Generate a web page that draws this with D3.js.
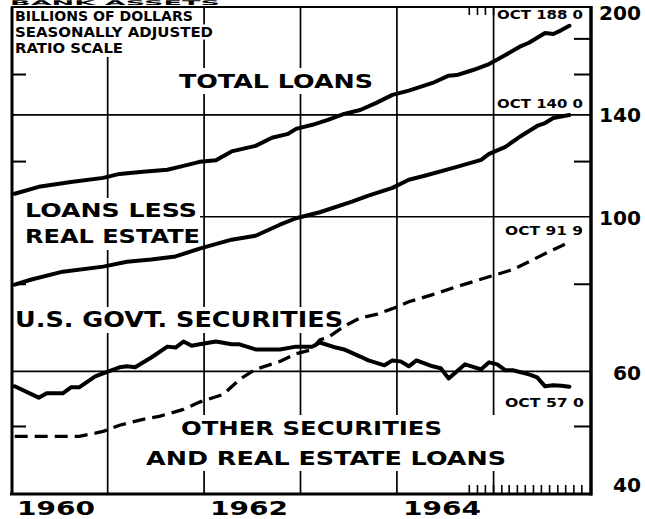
<!DOCTYPE html>
<html><head><meta charset="utf-8">
<script src="https://cdn.jsdelivr.net/npm/d3@7"></script>
<style>body{margin:0;background:#fff}svg{display:block}text{font-family:"DejaVu Sans",sans-serif;font-weight:bold;fill:#000}</style>
</head><body>
<svg id="c" width="645" height="519"></svg>
<script>
// ---------- DATA (billions of dollars, seasonally adjusted) ----------
const totalMonths = ["1960-01","1960-04","1960-08","1960-12","1961-02","1961-05","1961-08","1961-10","1961-12","1962-02","1962-04","1962-07","1962-09","1962-11","1962-12","1963-02","1963-04","1963-06","1963-08","1963-10","1963-12","1964-02","1964-05","1964-07","1964-08","1964-10","1964-12","1965-02","1965-04","1965-05","1965-07","1965-08","1965-09","1965-10"];
const totalValues = [107.9,110.4,112.2,113.7,115.2,116.0,116.8,118.3,119.9,120.5,124.1,126.4,129.8,131.5,133.7,135.5,137.7,140.5,142.3,145.7,149.6,151.7,155.6,159.4,159.7,162.4,165.6,170.7,175.8,177.7,183.5,182.9,185.3,188.0];

const lessReMonths = ["1960-01","1960-03","1960-07","1960-12","1961-03","1961-06","1961-09","1961-12","1962-04","1962-07","1962-10","1962-12","1963-03","1963-07","1963-09","1963-12","1964-02","1964-04","1964-08","1964-11","1964-12","1965-02","1965-04","1965-06","1965-07","1965-08","1965-10"];
const lessReValues = [79.9,81.2,83.4,84.8,86.2,86.8,87.7,90.0,92.7,93.9,97.4,99.5,101.5,105.1,107.2,110.0,113.0,114.5,117.9,120.7,123.1,126.0,130.6,135.0,136.3,138.6,140.0];

const govtMonths = ["1960-01","1960-04","1960-05","1960-07","1960-08","1960-09","1960-11","1960-12","1961-02","1961-03","1961-04","1961-06","1961-08","1961-09","1961-10","1961-11","1961-12","1962-02","1962-04","1962-05","1962-07","1962-10","1962-12","1963-02","1963-03","1963-05","1963-06","1963-08","1963-09","1963-11","1963-12","1964-01","1964-02","1964-03","1964-05","1964-06","1964-07","1964-09","1964-11","1964-12","1965-01","1965-02","1965-03","1965-05","1965-06","1965-07","1965-08","1965-09","1965-10"];
const govtValues = [57.1,55.0,55.8,55.8,56.9,56.9,59.0,59.6,60.8,61.0,60.8,62.8,65.1,64.9,66.2,65.3,65.6,66.2,65.6,65.6,64.5,64.5,65.1,65.1,66.0,64.9,64.5,63.0,62.2,61.2,62.2,62.0,61.0,62.2,61.0,60.6,58.6,61.4,60.4,61.8,61.4,60.2,60.2,59.4,58.8,57.1,57.3,57.2,57.0];

const otherMonths = ["1960-01","1960-04","1960-07","1960-09","1960-11","1960-12","1961-02","1961-05","1961-07","1961-10","1961-12","1962-03","1962-05","1962-07","1962-10","1962-12","1963-02","1963-03","1963-04","1963-06","1963-08","1963-10","1963-12","1964-02","1964-05","1964-08","1964-12","1965-03","1965-05","1965-08","1965-10"];
const otherValues = [48.4,48.4,48.4,48.4,48.9,49.2,50.2,51.2,51.7,52.9,54.2,55.6,58.4,60.4,62.0,63.6,64.5,66.6,67.1,69.6,71.6,72.4,73.8,75.5,77.3,79.4,82.0,84.0,86.2,89.7,91.9];

const majorTicks = [200, 140, 100, 60, 40];
const minorTicks = [180, 160, 120, 80, 50];
const gridYears = [1961, 1962, 1963, 1964, 1965];
const yearLabels = ["1960", "1962", "1964"];
const endLabels = ["OCT  188 0", "OCT  140 0", "OCT  91 9", "OCT  57 0"];

// ---------- CHART ----------
const svg = d3.select("#c");
const x = d3.scaleTime().domain([new Date(1960,0,1), new Date(1966,0,1)]).range([11, 590]);
const y = d3.scaleLog().domain([40, 200]).range([494, 7]);
const parse = s => { const [a,b] = s.split("-").map(Number); return new Date(a, b-1, 15); };
const [X0, X1] = x.range();
const [Y0, Y1] = [y(40), y(200)];

const gGrid = svg.append("g"), gTick = svg.append("g"), gBg = svg.append("g"),
      gText = svg.append("g"), gLine = svg.append("g"), gFrame = svg.append("g");

// grid
gGrid.selectAll("line.v").data(gridYears).join("line")
  .attr("x1", d => x(new Date(d,0,1))).attr("x2", d => x(new Date(d,0,1)))
  .attr("y1", Y1).attr("y2", Y0).attr("stroke", "#000").attr("stroke-width", 1.7);
gGrid.selectAll("line.h").data([140,100,60]).join("line")
  .attr("x1", X0).attr("x2", X1).attr("y1", d => y(d)).attr("y2", d => y(d))
  .attr("stroke", "#000").attr("stroke-width", 1.7);

// minor ticks on both sides
minorTicks.forEach(v => {
  gTick.append("line").attr("x1", X0).attr("x2", X0 + 15).attr("y1", y(v)).attr("y2", y(v)).attr("stroke","#000").attr("stroke-width",2);
  gTick.append("line").attr("x1", X1 - 16).attr("x2", X1).attr("y1", y(v)).attr("y2", y(v)).attr("stroke","#000").attr("stroke-width",2);
});
// monthly ticks (Oct 1964 - Dec 1965) top and bottom
const months = d3.timeMonth.range(new Date(1964,9,1), new Date(1966,0,1));
months.forEach(m => {
  gTick.append("line").attr("x1", x(m)).attr("x2", x(m)).attr("y1", Y0).attr("y2", Y0 - 9).attr("stroke","#000").attr("stroke-width",1.6);
  gTick.append("line").attr("x1", x(m)).attr("x2", x(m)).attr("y1", Y1).attr("y2", Y1 + 8).attr("stroke","#000").attr("stroke-width",1.6);
});

// text helper
function txt(g, t, xl, yb, w, fs, halo) {
  const el = g.append("text").attr("x", xl).attr("y", yb).attr("font-size", fs)
    .attr("textLength", w).attr("lengthAdjust", "spacingAndGlyphs").text(t);
  if (halo) el.attr("stroke", "#fff").attr("stroke-width", halo).attr("stroke-linejoin","round").attr("paint-order","stroke");
  return el;
}
function bg(els, padL, padR, padT, padB, left) {
  const bbs = els.map(e => e.node().getBBox());
  const x0 = left != null ? left : d3.min(bbs, b => b.x) - padL;
  const x1 = d3.max(bbs, b => b.x + b.width) + padR;
  const y0 = d3.min(bbs, b => b.y) - padT, y1 = d3.max(bbs, b => b.y + b.height) + padB;
  gBg.append("rect").attr("x", x0).attr("y", y0).attr("width", x1 - x0).attr("height", y1 - y0).attr("fill", "#fff");
}

// title strip above the frame (mostly cropped in the original)
txt(gText, "BANK ASSETS", 10, 5.2, 210, 6.5);

// units block
const u1 = txt(gText, "BILLIONS OF DOLLARS", 15, 21, 178, 14.5, 5);
const u2 = txt(gText, "SEASONALLY ADJUSTED", 15, 37, 198, 14.5, 5);
const u3 = txt(gText, "RATIO SCALE", 15, 53, 108, 14.5, 5);
bg([u1, u3], 0, 3, 0, 1, X0);

// series labels
const tl = txt(gText, "TOTAL LOANS", 179, 88, 194, 19);
bg([tl], 4, 4, 2, 2);
const ll1 = txt(gText, "LOANS LESS", 25, 217, 172, 20);
const ll2 = txt(gText, "REAL ESTATE", 25, 243, 175, 20);
bg([ll1, ll2], 0, 0, 0, 2, X0);
const gv = txt(gText, "U.S. GOVT. SECURITIES", 15, 327, 328, 21);
bg([gv], 0, 3, 1, 1, X0);
const o1 = txt(gText, "OTHER SECURITIES", 181, 435, 261, 20);
const o2 = txt(gText, "AND REAL ESTATE LOANS", 146, 465, 360, 20);
bg([o1, o2], 3, 3, 1, 1);

// end labels
const e1 = txt(gText, endLabels[0], 497, 19, 86, 12.5);
bg([e1], 1, 4, 0, 0);
txt(gText, endLabels[1], 497, 108, 86, 12.5, 4);
txt(gText, endLabels[2], 505, 235, 78, 12.5, 4);
txt(gText, endLabels[3], 505, 407, 79, 12.5, 4);

// right-hand axis labels
const rlPos = {200: 20, 140: 122, 100: 225, 60: 380, 40: 492};
majorTicks.forEach(v => {
  const s = String(v);
  svg.append("text").attr("x", 641).attr("y", rlPos[v]).attr("text-anchor", "end")
    .attr("font-size", 20).attr("textLength", s.length === 3 ? 42 : 28)
    .attr("lengthAdjust", "spacingAndGlyphs").text(s);
});
// year labels (centred on mid-year)
yearLabels.forEach(s => {
  const cx = x(new Date(+s, 6, 1)) - 3;
  svg.append("text").attr("x", cx).attr("y", 515).attr("text-anchor", "middle")
    .attr("font-size", 20).attr("textLength", 78).attr("lengthAdjust", "spacingAndGlyphs").text(s);
});

// lines
const line = d3.line().x(d => x(d[0])).y(d => y(d[1])).curve(d3.curveLinear);
const zipS = (ms, vs) => ms.map((m, i) => [parse(m), vs[i]]);
const series = [
  {d: zipS(totalMonths, totalValues), w: 4, dash: null},
  {d: zipS(lessReMonths, lessReValues), w: 4, dash: null},
  {d: zipS(govtMonths, govtValues), w: 4, dash: null},
  {d: zipS(otherMonths, otherValues), w: 3.3, dash: "13,7"}
];
series.forEach(s => {
  gLine.append("path").attr("d", line(s.d)).attr("fill", "none").attr("stroke", "#000")
    .attr("stroke-width", s.w).attr("stroke-linejoin", "round").attr("stroke-linecap", s.dash ? "butt" : "round")
    .attr("stroke-dasharray", s.dash);
});

// frame
gFrame.append("line").attr("x1", X0 + 1).attr("x2", X0 + 1).attr("y1", Y1).attr("y2", Y0).attr("stroke","#000").attr("stroke-width", 3);
gFrame.append("line").attr("x1", X1 + 1).attr("x2", X1 + 1).attr("y1", Y1 - 1).attr("y2", Y0 + 1.5).attr("stroke","#000").attr("stroke-width", 3.5);
gFrame.append("line").attr("x1", X0).attr("x2", X1 + 2).attr("y1", Y1).attr("y2", Y1).attr("stroke","#000").attr("stroke-width", 2);
gFrame.append("line").attr("x1", X0 - 1).attr("x2", X1 + 2).attr("y1", Y0).attr("y2", Y0).attr("stroke","#000").attr("stroke-width", 3);
</script>
</body></html>
